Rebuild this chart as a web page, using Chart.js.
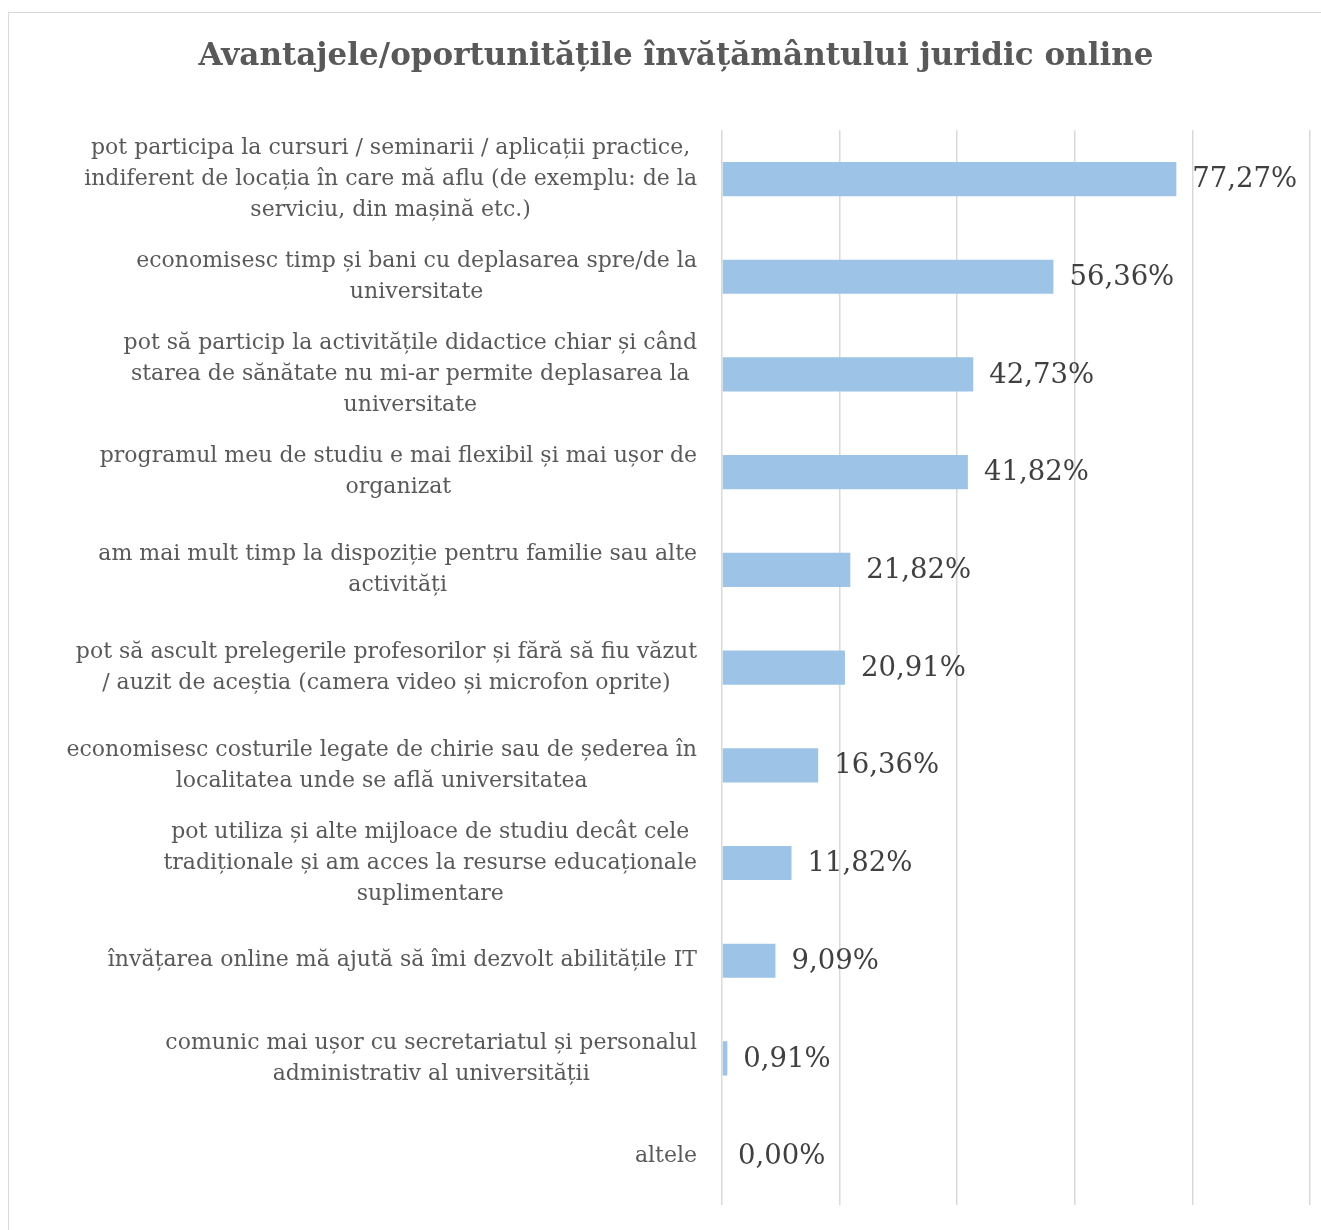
<!DOCTYPE html>
<html>
<head>
<meta charset="utf-8">
<script src="https://cdn.jsdelivr.net/npm/chart.js@4.4.1/dist/chart.umd.min.js"></script>
<style>
  html, body { margin: 0; padding: 0; background: #fff; overflow: hidden; }
  #box {
    position: absolute; left: 8px; top: 12px;
    width: 1334px; height: 1240px;
    border: 1px solid #d9d9d9; background: #fff;
  }
</style>
</head>
<body>
<div id="box"><canvas id="c" width="1334" height="1240"></canvas></div>
<script>
// date din grafic
const chartTitle = "Avantajele/oportunitățile învățământului juridic online";

const categories = [
  ["pot participa la cursuri / seminarii / aplicații practice,", "indiferent de locația în care mă aflu (de exemplu: de la", "serviciu, din mașină etc.)"],
  ["economisesc timp și bani cu deplasarea spre/de la", "universitate"],
  ["pot să particip la activitățile didactice chiar și când", "starea de sănătate nu mi-ar permite deplasarea la", "universitate"],
  ["programul meu de studiu e mai flexibil și mai ușor de", "organizat"],
  ["am mai mult timp la dispoziție pentru familie sau alte", "activități"],
  ["pot să ascult prelegerile profesorilor și fără să fiu văzut", "/ auzit de aceștia (camera video și microfon oprite)"],
  ["economisesc costurile legate de chirie sau de șederea în", "localitatea unde se află universitatea"],
  ["pot utiliza și alte mijloace de studiu decât cele", "tradiționale și am acces la resurse educaționale", "suplimentare"],
  ["învățarea online mă ajută să îmi dezvolt abilitățile IT"],
  ["comunic mai ușor cu secretariatul și personalul", "administrativ al universității"],
  ["altele"]
];

const percentages = [77.27, 56.36, 42.73, 41.82, 21.82, 20.91, 16.36, 11.82, 9.09, 0.91, 0.00];

const xTicks = [0, 20, 40, 60, 80, 100];

const labelFont = '22px "DejaVu Serif", serif';
const valueFont = '27.5px "DejaVu Serif", serif';

// etichetele categoriilor: fiecare bloc centrat pe el insusi, aliniat la dreapta
const categoryLabels = {
  id: 'categoryLabels',
  afterDraw(chart) {
    const { ctx, scales: { y } } = chart;
    const rightEdge = chart.chartArea.left - 25;
    const lineH = 31;
    ctx.save();
    ctx.font = labelFont;
    ctx.fillStyle = '#595959';
    ctx.textAlign = 'center';
    ctx.textBaseline = 'middle';
    categories.forEach((lines, i) => {
      const w = Math.max(...lines.map(l => ctx.measureText(l).width));
      const cx = rightEdge - w / 2;
      const cy = y.getPixelForValue(i);
      const top = cy - (lines.length - 1) * lineH / 2;
      lines.forEach((l, k) => ctx.fillText(l, cx, top + k * lineH));
    });
    ctx.restore();
  }
};

// valorile la capatul barelor
const valueLabels = {
  id: 'valueLabels',
  afterDatasetsDraw(chart) {
    const { ctx } = chart;
    const meta = chart.getDatasetMeta(0);
    ctx.save();
    ctx.font = valueFont;
    ctx.fillStyle = '#404040';
    ctx.textAlign = 'left';
    ctx.textBaseline = 'middle';
    meta.data.forEach((bar, i) => {
      const txt = percentages[i].toFixed(2).replace('.', ',') + '%';
      ctx.fillText(txt, bar.x + 16, bar.y + 1);
    });
    ctx.restore();
  }
};

new Chart(document.getElementById('c'), {
  type: 'bar',
  data: {
    labels: categories.map(c => c.join(' ')),
    datasets: [{
      data: percentages,
      backgroundColor: '#9dc3e6',
      borderWidth: 0,
      categoryPercentage: 0.35,
      barPercentage: 1.0
    }]
  },
  options: {
    indexAxis: 'y',
    responsive: false,
    animation: false,
    layout: { padding: { left: 33, right: 33, top: 0, bottom: 48 } },
    plugins: {
      legend: { display: false },
      tooltip: { enabled: false },
      title: {
        display: true,
        text: chartTitle,
        color: '#595959',
        font: { family: '"DejaVu Serif", serif', size: 31, weight: 'bold' },
        padding: { top: 25, bottom: 55 }
      }
    },
    scales: {
      x: {
        min: 0,
        max: 100,
        afterBuildTicks: axis => { axis.ticks = xTicks.map(v => ({ value: v })); },
        ticks: { display: false },
        border: { display: false },
        grid: { color: '#d9d9d9', lineWidth: 1.5, drawTicks: false }
      },
      y: {
        afterFit: axis => { axis.width = 680; },
        ticks: { display: false },
        border: { display: false },
        grid: { display: false, drawTicks: false }
      }
    }
  },
  plugins: [categoryLabels, valueLabels]
});
</script>
</body>
</html>
